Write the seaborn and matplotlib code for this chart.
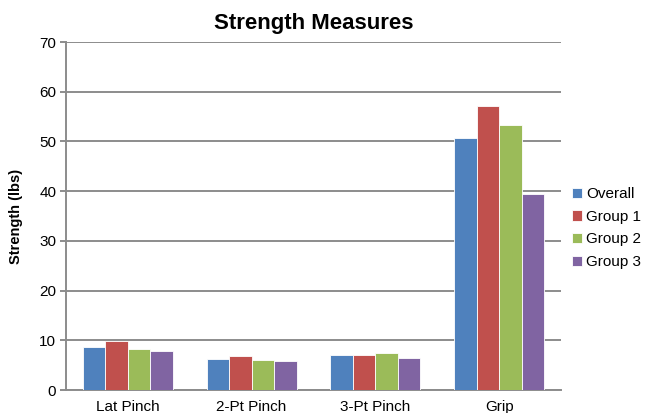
import matplotlib
matplotlib.use("Agg")
import matplotlib.pyplot as plt
import seaborn as sns
import pandas as pd

categories = ["Lat Pinch", "2-Pt Pinch", "3-Pt Pinch", "Grip"]
groups = ["Overall", "Group 1", "Group 2", "Group 3"]
overall = [8.7, 6.3, 7.1, 50.7]
group1 = [9.9, 6.9, 7.1, 57.2]
group2 = [8.3, 6.0, 7.5, 53.3]
group3 = [7.9, 5.9, 6.5, 39.4]
yticks = [0, 10, 20, 30, 40, 50, 60, 70]

palette = ["#4F81BD", "#C0504D", "#9BBB59", "#8064A2"]

rows = []
for g, vals in zip(groups, [overall, group1, group2, group3]):
    for c, v in zip(categories, vals):
        rows.append({"Measure": c, "Group": g, "Strength": v})
df = pd.DataFrame(rows)

sns.set_style("white")
plt.rcParams["font.family"] = ["Liberation Sans", "DejaVu Sans"]
plt.rcParams["text.color"] = "black"
plt.rcParams["xtick.color"] = "black"
plt.rcParams["ytick.color"] = "black"
plt.rcParams["axes.labelcolor"] = "black"

fig = plt.figure(figsize=(6.45, 4.13), dpi=100)
ax = fig.add_axes([66 / 645, 23 / 413, 495 / 645, 348 / 413])

sns.barplot(data=df, x="Measure", y="Strength", hue="Group", order=categories,
            hue_order=groups, palette=palette, width=0.727, saturation=1,
            edgecolor="white", linewidth=0.6, ax=ax, zorder=3)

ax.set_ylim(0, 70)
ax.set_yticks(yticks)
ax.set_xlim(-0.5, 3.5)
ax.yaxis.grid(True, color="#8c8c8c", linewidth=1.4, zorder=0)
ax.set_axisbelow(True)
for side in ["top", "right"]:
    ax.spines[side].set_visible(False)
for side in ["left", "bottom"]:
    ax.spines[side].set_color("#8c8c8c")
    ax.spines[side].set_linewidth(1.4)
ax.tick_params(axis="y", which="both", left=True, length=4, width=1.4,
               color="#8c8c8c", labelcolor="black", labelsize=11, pad=3)
ax.tick_params(axis="x", bottom=False, labelcolor="black", labelsize=11, pad=4)

ax.set_xlabel("")
ax.set_ylabel("Strength (lbs)", fontsize=10.5, fontweight="bold", labelpad=12)
ax.set_title("Strength Measures", fontsize=16, fontweight="bold", pad=9)

ax.legend(loc="center left", bbox_to_anchor=(1.01, 0.465), frameon=False,
          fontsize=11, handlelength=0.65, handleheight=0.65,
          handletextpad=0.25, labelspacing=0.56, borderaxespad=0)

fig.savefig("out.png", dpi=100)
